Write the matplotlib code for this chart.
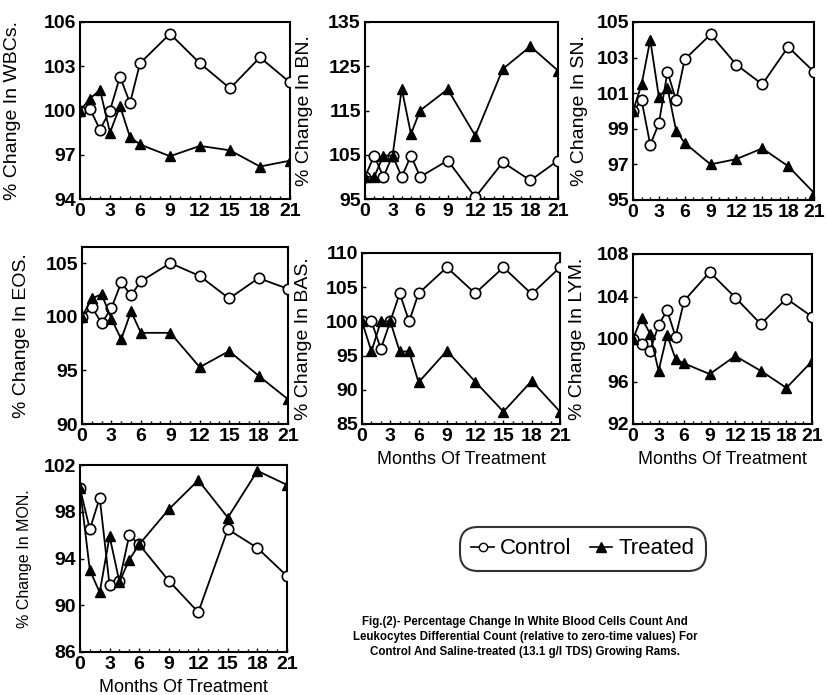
import matplotlib
matplotlib.use("Agg")
import matplotlib.pyplot as plt
from matplotlib.lines import Line2D

plt.rcParams['font.family'] = ['Liberation Sans', 'DejaVu Sans']

# months of treatment
months = [0, 1, 2, 3, 4, 5, 6, 9, 12, 15, 18, 21]

# % change values
wbc_control = [100, 100.1, 98.7, 100.0, 102.3, 100.5, 103.2, 105.2, 103.2, 101.5, 103.6, 101.9]
wbc_treated = [100, 100.8, 101.4, 98.5, 100.3, 98.2, 97.7, 96.9, 97.6, 97.3, 96.2, 96.6]

bn_control = [100, 104.8, 100, 104.8, 100, 104.8, 100, 103.7, 95.4, 103.3, 99.2, 103.7]
bn_treated = [100, 100, 104.8, 104.8, 119.9, 109.7, 115.0, 119.8, 109.3, 124.4, 129.5, 124.0]

sn_control = [100, 100.6, 98.1, 99.3, 102.2, 100.6, 102.9, 104.3, 102.6, 101.5, 103.6, 102.2]
sn_treated = [100, 101.5, 104.0, 100.8, 101.3, 98.9, 98.2, 97.0, 97.3, 97.9, 96.9, 95.4]

eos_control = [100, 100.9, 99.4, 100.8, 103.2, 102.0, 103.3, 105.0, 103.8, 101.7, 103.6, 102.6]
eos_treated = [100, 101.7, 102.1, 99.8, 97.9, 100.5, 98.5, 98.5, 95.3, 96.8, 94.5, 92.3]

bas_control = [100, 100, 96.0, 100, 104.1, 100, 104.1, 107.9, 104.1, 107.9, 104.0, 107.9]
bas_treated = [100, 95.6, 100, 100, 95.6, 95.6, 91.1, 95.7, 91.2, 86.8, 91.3, 86.8]

lym_control = [100, 99.5, 98.9, 101.3, 102.7, 100.2, 103.6, 106.3, 103.9, 101.4, 103.8, 102.1]
lym_treated = [100, 102.0, 100.5, 97.0, 100.4, 98.1, 97.7, 96.7, 98.4, 97.0, 95.4, 97.9]

mon_control = [100, 96.5, 99.2, 91.7, 92.1, 96.0, 95.2, 92.1, 89.4, 96.5, 94.9, 92.5]
mon_treated = [100, 93.0, 91.1, 95.9, 92.0, 93.9, 95.2, 98.2, 100.7, 97.5, 101.5, 100.3]

xticks = [0, 3, 6, 9, 12, 15, 18, 21]

W, H = 828, 695
fig = plt.figure(figsize=(W / 100, H / 100), dpi=100)


def px_axes(l, t, r, b):
    return fig.add_axes([l / W, 1 - b / H, (r - l) / W, (b - t) / H])


def panel(rect, control, treated, ylim, yticks, ylabel, lab_x, ylab_size=14,
          xlabel=None):
    ax = px_axes(*rect)
    ax.plot(months, control, color='black', lw=1.3, marker='o', ms=7.5,
            mfc='white', mec='black', mew=1.2, zorder=3)
    ax.plot(months, treated, color='black', lw=1.3, marker='^', ms=6.5,
            mfc='black', mec='black', zorder=4)
    ax.set_xlim(0, 21)
    ax.set_ylim(*ylim)
    ax.set_xticks(xticks)
    ax.set_xticks(range(0, 22), minor=True)
    ax.set_yticks(yticks)
    ax.tick_params(axis='both', which='major', direction='in', length=3,
                   width=1, labelsize=14, pad=3)
    ax.tick_params(axis='x', which='minor', direction='in', length=2, width=1)
    for lbl in ax.get_xticklabels() + ax.get_yticklabels():
        lbl.set_fontweight('bold')
    for s in ax.spines.values():
        s.set_linewidth(1.5)
    ax.set_ylabel(ylabel, fontsize=ylab_size)
    ax.yaxis.set_label_coords(lab_x, 0.5)
    if xlabel:
        ax.set_xlabel(xlabel, fontsize=13, labelpad=4)
    return ax


panel((80, 22, 290, 199), wbc_control, wbc_treated, (94, 106),
      [94, 97, 100, 103, 106], '% Change In WBCs.', -0.28)
panel((365, 22, 558, 199), bn_control, bn_treated, (95, 135),
      [95, 105, 115, 125, 135], '% Change In BN.', -0.27)
panel((633, 22, 814, 200), sn_control, sn_treated, (95, 105),
      [95, 97, 99, 101, 103, 105], '% Change In SN.', -0.25)

panel((82, 247, 288, 424), eos_control, eos_treated, (90, 106.5),
      [90, 95, 100, 105], '% Change In EOS.', -0.25)
panel((362, 253, 560, 424), bas_control, bas_treated, (85, 110),
      [85, 90, 95, 100, 105, 110], '% Change In BAS.', -0.25,
      xlabel='Months Of Treatment')
panel((633, 254, 812, 424), lym_control, lym_treated, (92, 108),
      [92, 96, 100, 104, 108], '% Change In LYM.', -0.265,
      xlabel='Months Of Treatment')

panel((80, 465, 287, 652), mon_control, mon_treated, (86, 102),
      [86, 90, 94, 98, 102], '% Change In MON.', -0.23, ylab_size=11.5,
      xlabel='Months Of Treatment')

handles = [
    Line2D([], [], color='black', lw=1.2, marker='o', ms=6, mfc='white',
           mec='black'),
    Line2D([], [], color='black', lw=1.2, marker='^', ms=6.5, mfc='black'),
]
leg = fig.legend(handles, ['Control', 'Treated'], loc='center',
                 bbox_to_anchor=(583 / W, 1 - 549 / H), ncol=2,
                 handlelength=1.0, handletextpad=0.3,
                 columnspacing=0.8, frameon=True, fancybox=True,
                 borderpad=0.3, prop={'family': 'Liberation Sans', 'size': 16})
leg.get_frame().set_edgecolor('black')
leg.get_frame().set_linewidth(1.5)
leg.get_frame().set_boxstyle('round,pad=0.2,rounding_size=0.8')

caption = ("Fig.(2)- Percentage Change In White Blood Cells Count And\n"
           "Leukocytes Differential Count (relative to zero-time values) For\n"
           "Control And Saline-treated (13.1 g/l TDS) Growing Rams.")
fig.text(525 / W, 1 - 637 / H, caption, ha='center', va='center',
         fontsize=8.3, fontweight='bold', family='Liberation Sans',
         linespacing=1.35)

fig.savefig('out.png', dpi=100)
